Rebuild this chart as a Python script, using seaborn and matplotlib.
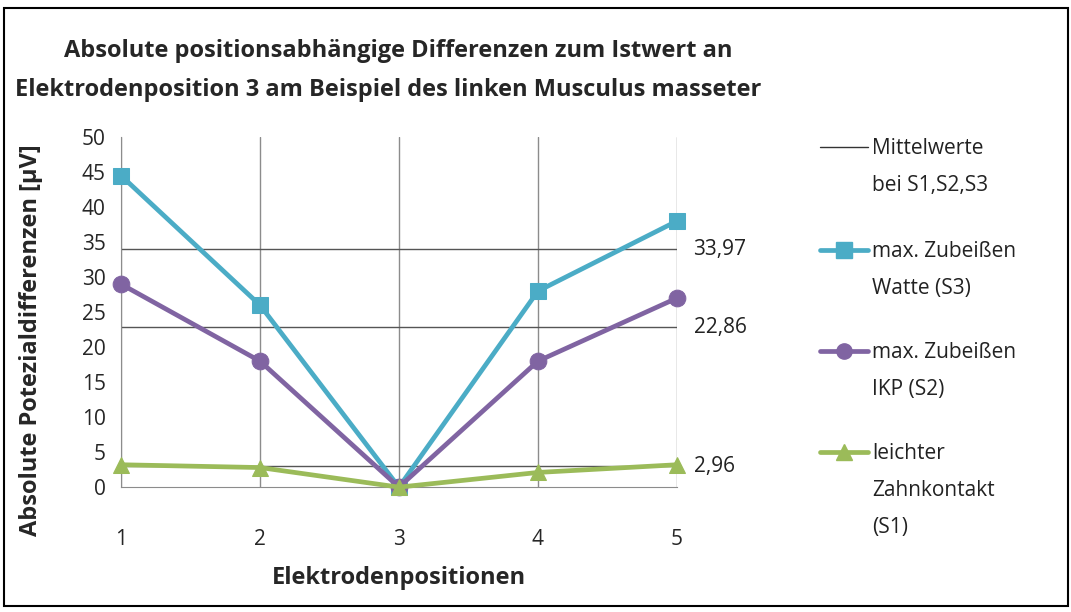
import pandas as pd
import matplotlib.pyplot as plt
import seaborn as sns
from matplotlib.lines import Line2D
from matplotlib.patches import Rectangle

# chart data
positions = [1, 2, 3, 4, 5]
watte_s3 = [44.5, 26, 0, 28, 38]
ikp_s2 = [29, 18, 0, 18, 27]
zahnkontakt_s1 = [3.2, 2.8, 0, 2.1, 3.2]
mean_values = [33.97, 22.86, 2.96]
mean_labels = ['33,97', '22,86', '2,96']
series_names = ['max. Zubeißen\nWatte (S3)', 'max. Zubeißen\nIKP (S2)',
                'leichter\nZahnkontakt\n(S1)']


def build_frame():
    """Long-form table for seaborn."""
    rows = []
    for name, vals in zip(series_names, [watte_s3, ikp_s2, zahnkontakt_s1]):
        for p, v in zip(positions, vals):
            rows.append({'pos': p, 'val': v, 'series': name})
    return pd.DataFrame(rows)


def main():
    sns.set_style('white')
    plt.rcParams['font.family'] = ['Open Sans', 'DejaVu Sans']

    df = build_frame()
    colors = ['#4BACC6', '#8064A2', '#9BBB59']
    markers = ['s', 'o', '^']
    fs = 15

    fig = plt.figure(figsize=(10.71, 6.12), dpi=100)
    ax = fig.add_axes([0.113, 0.204, 0.519, 0.572])

    # vertical grid and mean lines
    for x in positions:
        ax.axvline(x, color='#8c8c8c', lw=1, zorder=0)
    for m, lab in zip(mean_values, mean_labels):
        ax.axhline(m, color='#555555', lw=1, zorder=1)
        ax.text(5.12, m, lab, fontsize=fs, va='center', ha='left', color='#222222')

    for name, c, mk in zip(series_names, colors, markers):
        sub = df[df['series'] == name]
        sns.lineplot(data=sub, x='pos', y='val', ax=ax, color=c, marker=mk,
                     markersize=12, markeredgecolor=c, linewidth=3.4,
                     legend=False, zorder=3, clip_on=False)

    ax.set_xlim(1, 5)
    ax.set_ylim(0, 50)
    ax.set_yticks(range(0, 51, 5))
    ax.set_xticks(positions)
    ax.tick_params(axis='y', labelsize=fs, length=5, direction='out', color='#8c8c8c', pad=6)
    ax.tick_params(axis='x', labelsize=fs, length=0, pad=30)
    for side in ['top', 'right']:
        ax.spines[side].set_visible(False)
    for side in ['left', 'bottom']:
        ax.spines[side].set_color('#8c8c8c')
    ax.set_xlabel('Elektrodenpositionen', fontsize=17, fontweight='bold', labelpad=12)
    ax.set_ylabel('Absolute Potezialdifferenzen [µV]', fontsize=17, fontweight='bold')
    ax.yaxis.set_label_coords(-0.14, 0.42)

    fig.text(0.372, 0.917, 'Absolute positionsabhängige Differenzen zum Istwert an',
             ha='center', va='center', fontsize=17, fontweight='bold')
    fig.text(0.362, 0.853, 'Elektrodenposition 3 am Beispiel des linken Musculus masseter',
             ha='center', va='center', fontsize=17, fontweight='bold')

    # legend drawn by hand: handle beside the first line of each entry
    labels = ['Mittelwerte\nbei S1,S2,S3'] + series_names
    leg_colors = ['#333333'] + colors
    leg_markers = [None] + markers
    leg_widths = [1] + [3.4] * 3
    entry_rows = [0.760, 0.592, 0.426, 0.261]
    for lab, c, mk, lw, yr in zip(labels, leg_colors, leg_markers, leg_widths, entry_rows):
        fig.lines.append(Line2D([0.766, 0.81], [yr, yr], transform=fig.transFigure,
                                color=c, lw=lw))
        if mk is not None:
            fig.lines.append(Line2D([0.788], [yr], transform=fig.transFigure,
                                    color=c, marker=mk, markersize=11, lw=0))
        fig.text(0.814, yr + 0.0146, lab, fontsize=fs, va='top', ha='left',
                 linespacing=2.0, color='#222222')

    fig.patches.append(Rectangle((0.004, 0.01), 0.993, 0.977, transform=fig.transFigure,
                                 fill=False, edgecolor='black', lw=1.5))
    fig.savefig('out.png', dpi=100)
    plt.close(fig)


if __name__ == '__main__':
    main()
